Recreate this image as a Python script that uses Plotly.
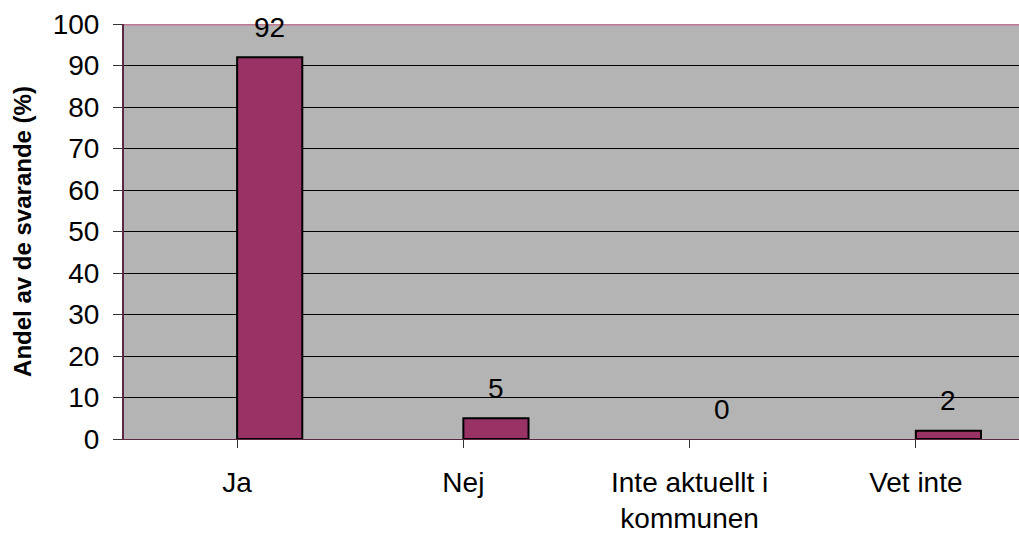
import plotly.graph_objects as go

categories = ["Ja", "Nej", "Inte aktuellt i<br>kommunen", "Vet inte"]
values = [92, 5, 0, 2]
y_ticks = list(range(0, 101, 10))

bar_color = "#993366"
bg_gray = "#b4b4b4"
axis_color = "#5e2845"
font_family = "Liberation Sans, Arial, sans-serif"

bar_width = 0.288  # fraction of a category slot, bar sits right of centre

fig = go.Figure()

fig.add_trace(go.Bar(
    x=list(range(len(categories))),
    y=values,
    width=bar_width,
    offset=0,
    marker=dict(
        color=bar_color,
        line=dict(color="black", width=[2 if v > 0 else 0 for v in values]),
    ),
    hoverinfo="skip",
))

# value labels above each bar
for i, v in enumerate(values):
    fig.add_annotation(
        x=i + bar_width / 2, y=v, text=str(v),
        showarrow=False, yanchor="middle", yshift=30,
        font=dict(size=28, color="black", family=font_family),
    )

# pink top border of plot area
fig.add_shape(type="line", xref="paper", yref="y", x0=0, x1=1, y0=100, y1=100,
              line=dict(color="#c07896", width=3), layer="above")

fig.update_layout(
    width=1019, height=533,
    margin=dict(l=124, r=0, t=24, b=94),
    paper_bgcolor="white",
    plot_bgcolor=bg_gray,
    showlegend=False,
    font=dict(family=font_family, color="black"),
)

fig.update_xaxes(
    range=[-0.5, 3.456],
    tickmode="array",
    tickvals=list(range(len(categories))),
    ticktext=categories,
    tickson="boundaries",
    ticks="outside", ticklen=8, tickcolor="#333333",
    tickfont=dict(size=28, color="black"),
    ticklabelstandoff=10,
    showline=True, linecolor=axis_color, linewidth=1,
    showgrid=False, zeroline=False,
)

fig.update_yaxes(
    range=[0, 100],
    tickmode="array",
    tickvals=y_ticks,
    ticks="outside", ticklen=9, tickcolor="#333333",
    tickfont=dict(size=28, color="black"),
    ticklabelstandoff=8,
    showline=True, linecolor=axis_color, linewidth=2,
    showgrid=True, gridcolor="black", gridwidth=1,
    zeroline=False,
    title=dict(text="<b>Andel av de svarande (%)</b>",
               font=dict(size=24, color="black"), standoff=14),
)

# drop the page margin so the figure sits at the window corner
fig.write_html(
    "out.html",
    config={"displayModeBar": False},
    post_script="document.body.style.margin='0';document.body.style.overflow='hidden';",
)
